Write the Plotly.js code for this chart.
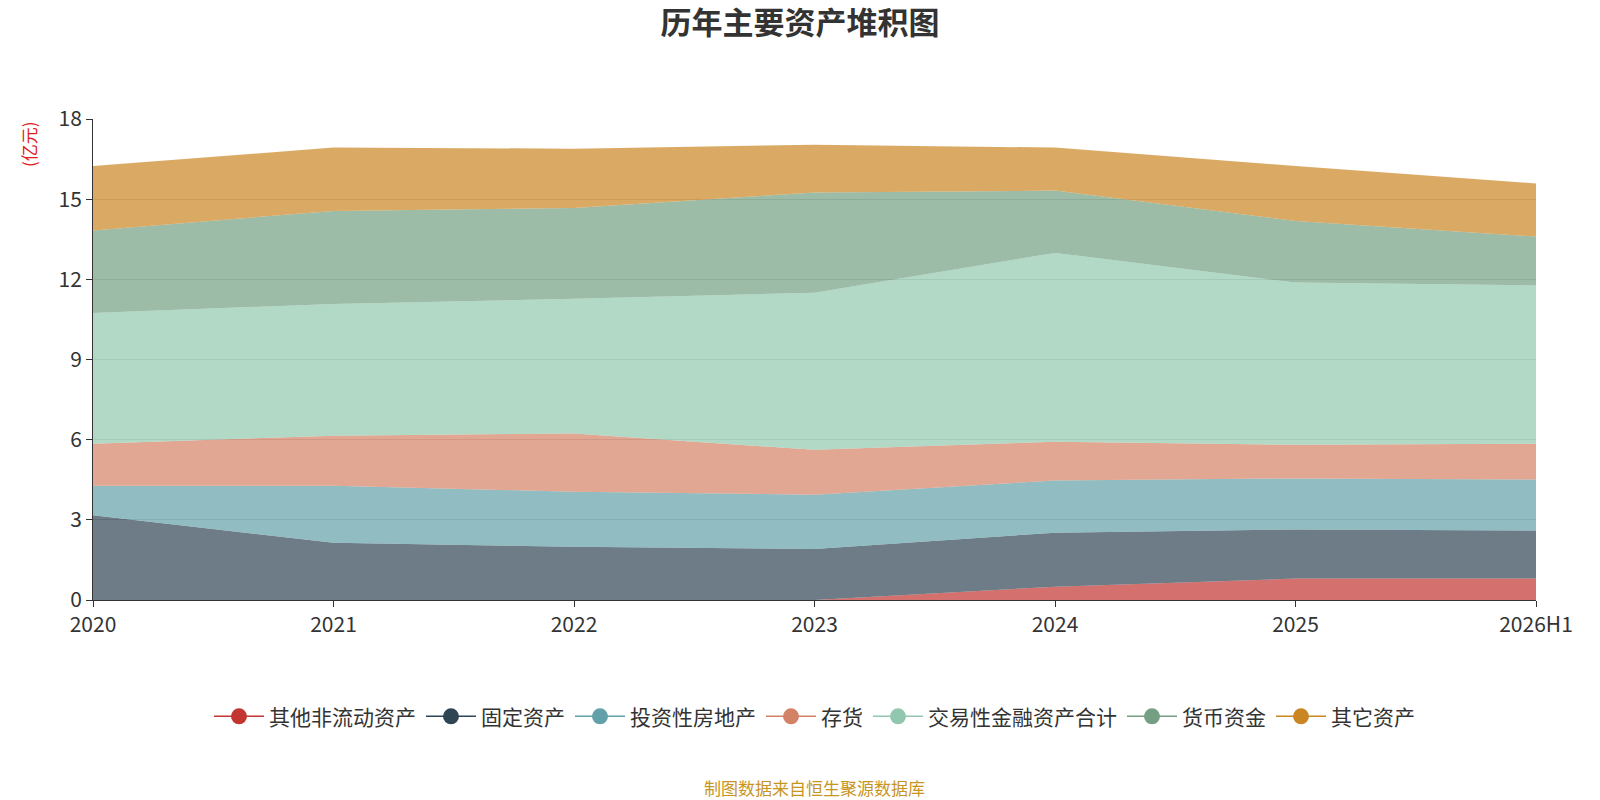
<!DOCTYPE html>
<html><head><meta charset="utf-8">
<script src="https://cdn.plot.ly/plotly-3.0.1.min.js"></script>
<style>body{margin:0}#c{width:1600px;height:800px}</style></head>
<body><div id="c"></div>
<script>
var years = ['2020','2021','2022','2023','2024','2025','2026H1'];
var otherNonCurrent = [0, 0, 0, 0, 0.5, 0.8, 0.8];
var fixedAssets = [3.17, 2.14, 1.99, 1.91, 2.02, 1.84, 1.8];
var investProperty = [1.11, 2.14, 2.06, 2.03, 1.95, 1.91, 1.91];
var inventory = [1.57, 1.87, 2.18, 1.68, 1.45, 1.26, 1.34];
var tradingFin = [4.89, 4.93, 5.04, 5.88, 7.07, 6.07, 5.92];
var cash = [3.09, 3.48, 3.40, 3.75, 2.33, 2.30, 1.83];
var otherAssets = [2.41, 2.37, 2.22, 1.79, 1.61, 2.06, 1.99];

var series = [
  ['其他非流动资产', otherNonCurrent, '#c23531', 'rgba(194,53,49,0.7)'],
  ['固定资产', fixedAssets, '#2f4554', 'rgba(47,69,84,0.7)'],
  ['投资性房地产', investProperty, '#61a0a8', 'rgba(97,160,168,0.7)'],
  ['存货', inventory, '#d48265', 'rgba(212,130,101,0.7)'],
  ['交易性金融资产合计', tradingFin, '#91c7ae', 'rgba(145,199,174,0.7)'],
  ['货币资金', cash, '#749f83', 'rgba(116,159,131,0.7)'],
  ['其它资产', otherAssets, '#ca8622', 'rgba(202,134,34,0.7)']
];

var data = [];
series.forEach(function (s) {
  data.push({
    x: years, y: s[1], name: s[0], type: 'scatter', mode: 'lines',
    stackgroup: 'a', line: { width: 0, color: s[2] }, fillcolor: s[3],
    showlegend: false, hovertemplate: '%{x}: %{y}'
  });
});
series.forEach(function (s) {
  data.push({
    x: [null], y: [null], name: s[0], type: 'scatter', mode: 'lines+markers',
    line: { color: s[2], width: 1.5 }, marker: { color: s[2], size: 22 }
  });
});

var layout = {
  width: 1600, height: 800,
  font: { family: 'Noto Sans CJK SC, sans-serif', color: '#333' },
  paper_bgcolor: '#fff', plot_bgcolor: '#fff',
  margin: { l: 93, r: 64, t: 119, b: 200 },
  title: {
    text: '<b>历年主要资产堆积图</b>', x: 0.5, y: 0.985, yanchor: 'top',
    font: { size: 31, color: '#333' }
  },
  xaxis: {
    type: 'category', range: [0, 6], showgrid: false, showline: true,
    linecolor: '#333', ticks: 'outside', tickcolor: '#333', ticklen: 6,
    tickfont: { size: 21, color: '#333' }, zeroline: false
  },
  yaxis: {
    range: [0, 18], dtick: 3, showline: true, linecolor: '#333',
    ticks: 'outside', tickcolor: '#333', ticklen: 6, gridcolor: 'rgba(170,170,170,0.6)',
    tickfont: { size: 21, color: '#333' }, zeroline: false
  },
  legend: {
    orientation: 'h', x: 0.5, xanchor: 'center', y: -0.2, yanchor: 'top',
    traceorder: 'normal', font: { size: 21, color: '#333' }, itemwidth: 50
  },
  annotations: [
    { text: '(亿元)', xref: 'paper', yref: 'paper', x: -0.045, y: 1.0, textangle: -90,
      showarrow: false, font: { size: 17, color: '#e02020' }, xanchor: 'center', yanchor: 'top' },
    { text: '制图数据来自恒生聚源数据库', xref: 'paper', yref: 'paper', x: 0.5, y: -0.39,
      xanchor: 'center', yanchor: 'middle', showarrow: false, font: { size: 17, color: '#c8951e' } }
  ]
};
Plotly.newPlot('c', data, layout, { displayModeBar: false });
</script></body></html>
